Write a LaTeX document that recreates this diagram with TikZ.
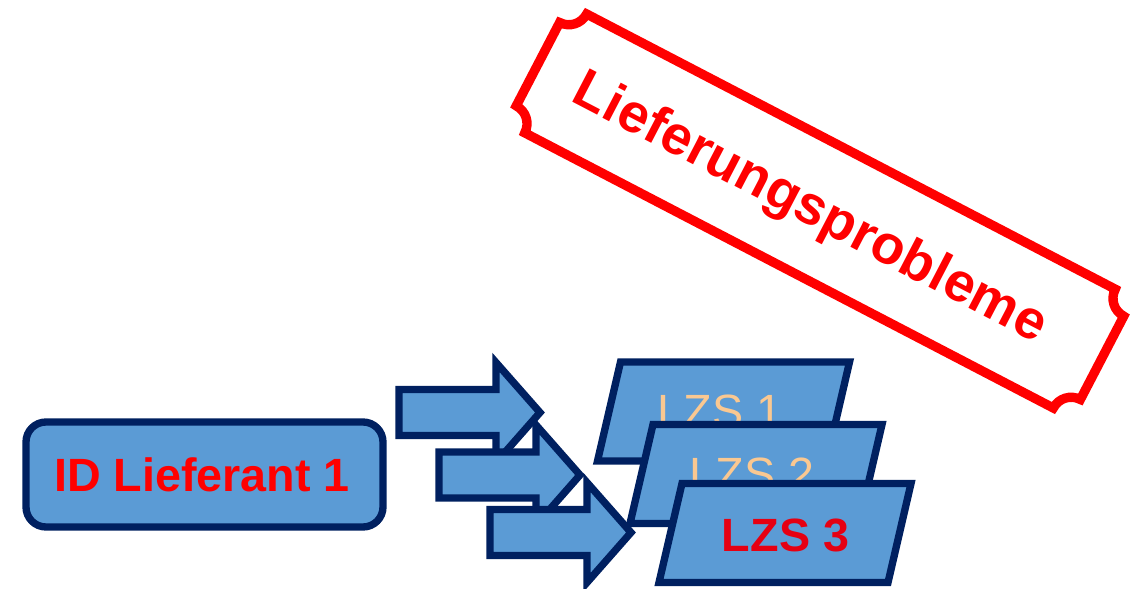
\documentclass[tikz,border=0pt]{standalone}
\usepackage{fontspec}
\setmainfont{Liberation Sans}

\tikzset{every picture/.style={line width=0.75pt}}
\tikzset{
  blueshape/.style={draw={rgb, 255:red, 0; green, 32; blue, 96 }, fill={rgb, 255:red, 91; green, 155; blue, 213 }, line width=5.5, line join=miter},
  stampline/.style={draw={rgb, 255:red, 255; green, 0; blue, 0 }, line width=7, line join=miter},
  redlabel/.style={anchor=base, inner sep=0pt, text={rgb, 255:red, 255; green, 0; blue, 0 }, font=\bfseries\fontsize{35}{40}\selectfont},
  tanlabel/.style={anchor=base, inner sep=0pt, text={rgb, 255:red, 250; green, 200; blue, 145 }, font=\fontsize{35}{40}\selectfont},
}

\begin{document}
\begin{tikzpicture}[x=0.75pt,y=0.75pt,yscale=-1,xscale=1]
%set diagram size to 1132 x 589
\useasboundingbox (0,0) rectangle (1132,589);

%Shape: Rounded Rect [supplier]
\draw [blueshape, rounded corners=15] (26,422) rectangle (383,527);
% Text Node
\node [redlabel] (lieferant) at (202,491.5) {ID Lieferant 1};

%Shape: Parallelogram [LZS 1]
\draw [blueshape] (620.5,362) -- (849.5,362) -- (826.5,461) -- (597.5,461) -- cycle;
% Text Node
\node [tanlabel] (lzsa) at (720,427) {LZS 1};
%Shape: Parallelogram [LZS 2]
\draw [blueshape] (653,424.5) -- (882,424.5) -- (859,523.5) -- (630,523.5) -- cycle;
% Text Node
\node [tanlabel] (lzsb) at (752,490) {LZS 2};
%Shape: Parallelogram [LZS 3]
\draw [blueshape] (682,483.5) -- (911,483.5) -- (888,582.5) -- (659,582.5) -- cycle;
% Text Node
\node [redlabel, text={rgb, 255:red, 230; green, 0; blue, 18 }] (lzsc) at (785.5,551.5) {LZS 3};

%Shape: Right Arrow [first]
\draw [blueshape] (399,389.5) -- (496,389.5) -- (496,362.5) -- (540,412.5) -- (496,462.5) -- (496,435.5) -- (399,435.5) -- cycle;
%Shape: Right Arrow [second]
\draw [blueshape] (439,452) -- (536,452) -- (536,425) -- (580,475) -- (536,525) -- (536,498) -- (439,498) -- cycle;
%Shape: Right Arrow [third]
\draw [blueshape] (490,509.5) -- (587,509.5) -- (587,482.5) -- (631,532.5) -- (587,582.5) -- (587,555.5) -- (490,555.5) -- cycle;

%Shape: Plaque [stamp]
\begin{scope}[shift={(820,211)}, rotate=27.5]
\draw [stampline] (-298,-67) -- (298,-67) arc (180:90:20) -- (318,47) arc (270:180:20) -- (-298,67) arc (0:-90:20) -- (-318,-47) arc (90:0:20) -- cycle;
\end{scope}
% Text Node
\node [redlabel, font=\bfseries\fontsize{41}{48}\selectfont, rotate=-27.5] (probleme) at (803,222) {Lieferungsprobleme};
\end{tikzpicture}
\end{document}
